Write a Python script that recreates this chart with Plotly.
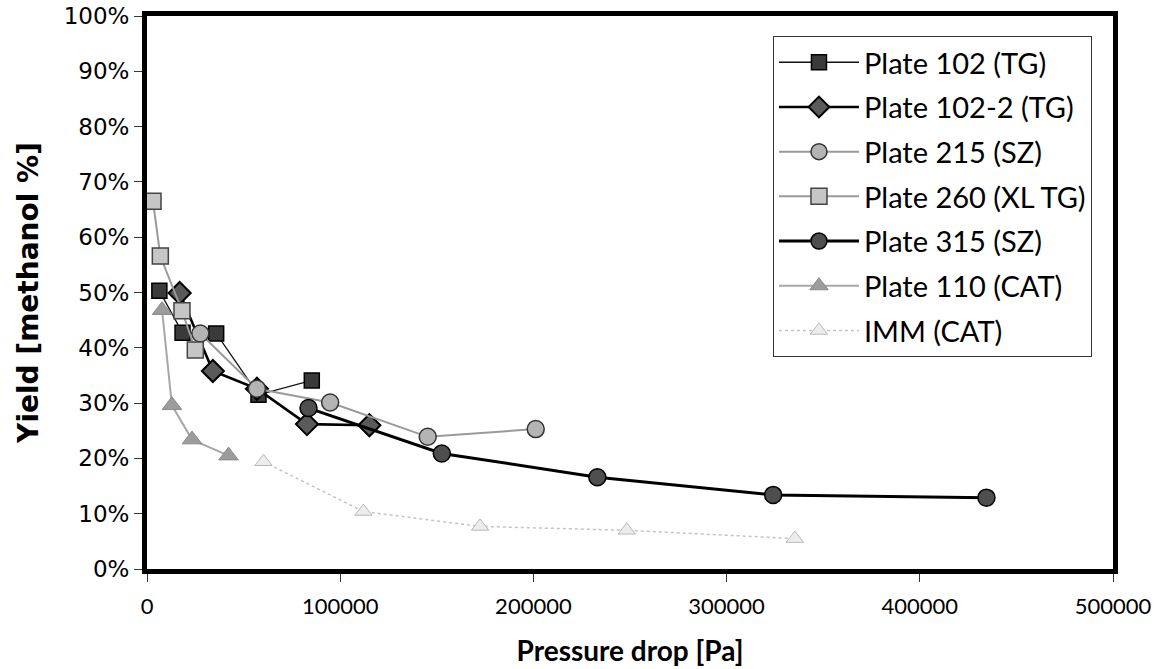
import plotly.graph_objects as go

# Pressure drop [Pa] and methanol yield [%] for each plate
p102_x = [6400, 18400, 35800, 57700, 85300]
p102_y = [50.3, 42.7, 42.6, 31.5, 34.1]

p102_2_x = [16900, 34100, 56900, 82800, 115100]
p102_2_y = [49.9, 35.8, 32.6, 26.2, 26.0]

p215_x = [27600, 56900, 94800, 145300, 201200]
p215_y = [42.6, 32.6, 30.1, 23.9, 25.3]

p260_x = [3100, 6900, 18100, 25000]
p260_y = [66.5, 56.6, 46.7, 39.6]

p315_x = [83600, 152600, 233100, 324100, 434500]
p315_y = [29.1, 20.9, 16.6, 13.4, 12.9]

p110_x = [7800, 12900, 23300, 42200]
p110_y = [46.8, 29.6, 23.4, 20.5]

imm_x = [60300, 112000, 172400, 248300, 335300]
imm_y = [19.4, 10.4, 7.7, 7.0, 5.5]

y_ticks = [0, 10, 20, 30, 40, 50, 60, 70, 80, 90, 100]
y_tick_text = [f"{v}%" for v in y_ticks]
x_ticks = [0, 100000, 200000, 300000, 400000, 500000]
x_tick_text = [str(v) for v in x_ticks]

series = [
    dict(name="Plate 102 (TG)", x=p102_x, y=p102_y,
         line=dict(color="#111111", width=1.3),
         marker=dict(symbol="square", size=15, color="#3a3a3a",
                     line=dict(color="#000000", width=1.5))),
    dict(name="Plate 102-2 (TG)", x=p102_2_x, y=p102_2_y,
         line=dict(color="#000000", width=2.6),
         marker=dict(symbol="diamond", size=17, color="#5a5a5a",
                     line=dict(color="#000000", width=2))),
    dict(name="Plate 215 (SZ)", x=p215_x, y=p215_y,
         line=dict(color="#9a9a9a", width=2),
         marker=dict(symbol="circle", size=17, color="#b4b4b4",
                     line=dict(color="#333333", width=1.5))),
    dict(name="Plate 260 (XL TG)", x=p260_x, y=p260_y,
         line=dict(color="#9a9a9a", width=2),
         marker=dict(symbol="square", size=16, color="#c6c6c6",
                     line=dict(color="#444444", width=1.5))),
    dict(name="Plate 315 (SZ)", x=p315_x, y=p315_y,
         line=dict(color="#000000", width=3),
         marker=dict(symbol="circle", size=17, color="#4e4e4e",
                     line=dict(color="#000000", width=1.5))),
    dict(name="Plate 110 (CAT)", x=p110_x, y=p110_y,
         line=dict(color="#a8a8a8", width=2),
         marker=dict(symbol="triangle-up", size=17, color="#9c9c9c",
                     line=dict(color="#8a8a8a", width=1))),
    dict(name="IMM (CAT)", x=imm_x, y=imm_y,
         line=dict(color="#c4c4c4", width=1.5, dash="dot"),
         marker=dict(symbol="triangle-up", size=15, color="rgba(235,235,235,0.9)",
                     line=dict(color="#b8b8b8", width=1))),
]

fig = go.Figure()
for i, s in enumerate(series):
    fig.add_trace(go.Scatter(
        x=s["x"], y=s["y"], name=s["name"], mode="lines+markers",
        line=s["line"], marker=s["marker"], legendgroup=f"g{i}",
    ))

fig.update_layout(
    width=1165, height=669,
    margin=dict(l=147, r=52, t=16, b=100),
    paper_bgcolor="white", plot_bgcolor="white",
    showlegend=True,
    legend=dict(
        x=0.648, y=0.964, xanchor="left", yanchor="top",
        bgcolor="white", bordercolor="#333333", borderwidth=1,
        font=dict(family="Lato", size=29, color="#000000"),
        tracegroupgap=4, itemwidth=80,
    ),
    xaxis=dict(
        range=[0, 500000], tickvals=x_ticks, ticktext=x_tick_text,
        showgrid=False, zeroline=False, automargin=False,
        showline=True, linecolor="#000000", linewidth=5, mirror=True,
        ticks="outside", ticklen=8, tickwidth=1, tickcolor="#333333",
        ticklabelstandoff=6,
        tickfont=dict(family="Lato", size=22, color="#000000"),
        title=dict(text="<b>Pressure drop [Pa]</b>",
                   font=dict(family="Lato", size=28, color="#000000"),
                   standoff=24),
    ),
    yaxis=dict(
        range=[0, 100], tickvals=y_ticks, ticktext=y_tick_text,
        showgrid=False, zeroline=False, automargin=False,
        showline=True, linecolor="#000000", linewidth=5, mirror=True,
        ticks="outside", ticklen=8, tickwidth=1, tickcolor="#333333",
        tickfont=dict(family="DejaVu Sans", size=23, color="#000000"),
        title=dict(text="<b>Yield [methanol %]</b>",
                   font=dict(family="DejaVu Sans", size=28, color="#000000"),
                   standoff=18),
    ),
)

fig.write_html("out.html")
